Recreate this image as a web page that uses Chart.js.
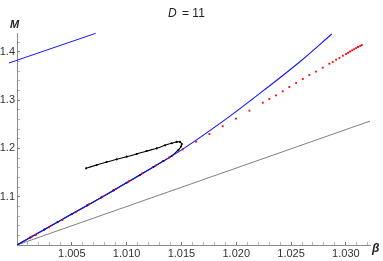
<!DOCTYPE html>
<html>
<head>
<meta charset="utf-8">
<script src="https://cdn.jsdelivr.net/npm/chart.js@4"></script>
<style>
  html, body { margin: 0; padding: 0; background: #fff; }
  #wrap { width: 383px; height: 261px; position: relative; }
</style>
</head>
<body>
<div id="wrap"><canvas id="cavas-chart"></canvas></div>
<script>
// values (beta, M)
var blueBeta = [1.0, 1.0040, 1.00773, 1.01147, 1.01512, 1.01943, 1.02247, 1.02589, 1.02871];
var blueM    = [1.0, 1.0512, 1.0988, 1.1484, 1.1985, 1.2668, 1.3195, 1.3810, 1.4369];

var upperBeta = [0.99927, 1.00718];
var upperM    = [1.3768, 1.4383];

var grayBeta = [1.0, 1.0322];
var grayM    = [1.0, 1.2565];

var redBeta = [1.00134, 1.00171, 1.00292, 1.00413, 1.00536, 1.00657, 1.00778, 1.00901, 1.01022, 1.01143,
               1.01266, 1.01387, 1.01512, 1.01633, 1.01755, 1.01877, 1.01998, 1.02120, 1.02242, 1.02302,
               1.02363, 1.02424, 1.02484, 1.02546, 1.02607, 1.02667, 1.02728, 1.02789, 1.02849, 1.02880,
               1.02911, 1.02941, 1.02972, 1.03002, 1.03020, 1.03038, 1.03057, 1.03075, 1.03093, 1.03111,
               1.03130, 1.03145];
var redM    = [1.0172, 1.0207, 1.0366, 1.0518, 1.0677, 1.0843, 1.1000, 1.1159, 1.1319, 1.1484,
               1.1646, 1.1812, 1.1981, 1.2139, 1.2298, 1.2458, 1.2615, 1.2781, 1.2946, 1.3023,
               1.3099, 1.3182, 1.3271, 1.3354, 1.3437, 1.3520, 1.3588, 1.3671, 1.3754, 1.3789,
               1.3836, 1.3872, 1.3919, 1.3954, 1.3981, 1.4006, 1.4031, 1.4052, 1.4075, 1.4099,
               1.4120, 1.4141];

var blackBeta = [1.00630, 1.00727, 1.00818, 1.00910, 1.01001, 1.01092, 1.01183, 1.01275, 1.01350, 1.01411,
                 1.01457, 1.01487, 1.01503, 1.01496, 1.01472, 1.01411, 1.01335, 1.01244, 1.0112, 1.0100,
                 1.0088, 1.0077, 1.0064, 1.0050, 1.0037, 1.0025, 1.0012, 1.0000];
var blackM    = [1.1588, 1.1656, 1.1718, 1.1774, 1.1828, 1.1884, 1.1946, 1.2002, 1.2064, 1.2106,
                 1.2133, 1.2133, 1.2091, 1.2039, 1.1967, 1.1843, 1.1739, 1.1615, 1.1448, 1.1289,
                 1.1130, 1.0986, 1.0819, 1.0640, 1.0474, 1.0320, 1.0154, 1.0000];

var xMajor = [1.005, 1.010, 1.015, 1.020, 1.025, 1.030];
var xTickLabels = ['1.005', '1.010', '1.015', '1.020', '1.025', '1.030'];
var yMajor = [1.1, 1.2, 1.3, 1.4];
var yTickLabels = ['1.1', '1.2', '1.3', '1.4'];

function pts(xs, ys) {
    return xs.map(function(x, i) { return {x: x, y: ys[i]}; });
}
function majorIndex(list, v) {
    for (var i = 0; i < list.length; i++) {
        if (Math.abs(list[i] - v) < 1e-7) return i;
    }
    return -1;
}

// minor tick positions
var xTicks = [];
for (var i = 1; i <= 32; i++) xTicks.push(+(1 + i * 0.001).toFixed(3));
var yTicks = [];
for (var j = 1; j <= 21; j++) yTicks.push(+(1 + j * 0.02).toFixed(2));
yMajor.forEach(function(v) { if (majorIndex(yTicks, v) < 0) yTicks.push(v); });
yTicks.sort();

var labelsPlugin = {
    id: 'labels',
    afterDraw: function(chart) {
        var ctx = chart.ctx;
        ctx.save();
        ctx.fillStyle = '#222';
        ctx.textBaseline = 'alphabetic';
        ctx.textAlign = 'left';
        ctx.font = 'italic 12px "Liberation Sans", Arial, sans-serif';
        ctx.fillText('D', 168, 17);
        ctx.font = '12px "Liberation Sans", Arial, sans-serif';
        ctx.fillText('= 11', 182, 17);
        ctx.font = 'italic bold 11px "Liberation Sans", Arial, sans-serif';
        ctx.fillText('M', 10, 28);
        ctx.font = 'italic bold 12px "Liberation Sans", Arial, sans-serif';
        ctx.fillText('\u03B2', 372, 252);
        ctx.restore();
    }
};

var ctx = document.getElementById('cavas-chart').getContext('2d');
window.myChart = new Chart(ctx, {
    type: 'scatter',
    data: {
        datasets: [
        {
            label: 'red',
            data: pts(redBeta, redM),
            showLine: false,
            pointStyle: 'rect',
            pointRadius: 1.3,
            pointBorderWidth: 0,
            backgroundColor: 'rgb(255,0,0)',
            borderColor: 'rgb(255,0,0)',
            order: 0
        },
        {
            label: 'blue',
            data: pts(blueBeta, blueM),
            showLine: true,
            borderColor: 'rgb(20,20,255)',
            borderWidth: 1.1,
            pointRadius: 0,
            cubicInterpolationMode: 'monotone',
            order: 1
        },
        {
            label: 'black',
            data: pts(blackBeta, blackM),
            showLine: true,
            borderColor: '#000',
            backgroundColor: '#000',
            borderWidth: 1.1,
            pointRadius: 1.1,
            pointBorderWidth: 0,
            tension: 0.35,
            order: 2
        },
        {
            label: 'blue upper',
            data: pts(upperBeta, upperM),
            showLine: true,
            clip: false,
            borderColor: 'rgb(20,20,255)',
            borderWidth: 1,
            pointRadius: 0,
            order: 2
        },
        {
            label: 'gray',
            data: pts(grayBeta, grayM),
            showLine: true,
            borderColor: 'rgb(128,128,128)',
            borderWidth: 1,
            pointRadius: 0,
            order: 3
        }]
    },
    options: {
        responsive: true,
        maintainAspectRatio: false,
        animation: false,
        layout: { padding: { left: 0, top: 33, right: 13, bottom: 0 } },
        plugins: {
            legend: { display: false },
            title: { display: false },
            tooltip: { enabled: false }
        },
        scales: {
            x: {
                type: 'linear',
                position: 'bottom',
                min: 1.0,
                max: 1.0322,
                afterFit: function(s) { s.height = 16; },
                afterBuildTicks: function(s) {
                    s.ticks = xTicks.map(function(v) { return {value: v}; });
                },
                ticks: {
                    autoSkip: false,
                    maxRotation: 0,
                    padding: 5,
                    color: '#333',
                    font: { family: '"Liberation Sans", Arial, sans-serif', size: 11 },
                    callback: function(v) {
                        var k = majorIndex(xMajor, v);
                        return k < 0 ? '' : xTickLabels[k];
                    }
                },
                grid: {
                    drawOnChartArea: false,
                    drawTicks: true,
                    tickLength: -3,
                    tickColor: function(c) {
                        return c.tick && majorIndex(xMajor, c.tick.value) >= 0 ? '#777' : '#b5b5b5';
                    }
                },
                border: { display: true, color: '#8c8c8c', width: 1 }
            },
            y: {
                type: 'linear',
                position: 'left',
                min: 1.0,
                max: 1.4389,
                afterFit: function(s) { s.width = 17; },
                afterBuildTicks: function(s) {
                    s.ticks = yTicks.map(function(v) { return {value: v}; });
                },
                ticks: {
                    autoSkip: false,
                    padding: 5,
                    color: '#333',
                    font: { family: '"Liberation Sans", Arial, sans-serif', size: 11 },
                    callback: function(v) {
                        var k = majorIndex(yMajor, v);
                        return k < 0 ? '' : yTickLabels[k];
                    }
                },
                grid: {
                    drawOnChartArea: false,
                    drawTicks: true,
                    tickLength: -3,
                    tickColor: function(c) {
                        return c.tick && majorIndex(yMajor, c.tick.value) >= 0 ? '#777' : '#b5b5b5';
                    }
                },
                border: { display: true, color: '#8c8c8c', width: 1 }
            }
        }
    },
    plugins: [labelsPlugin]
});
</script>
</body>
</html>
